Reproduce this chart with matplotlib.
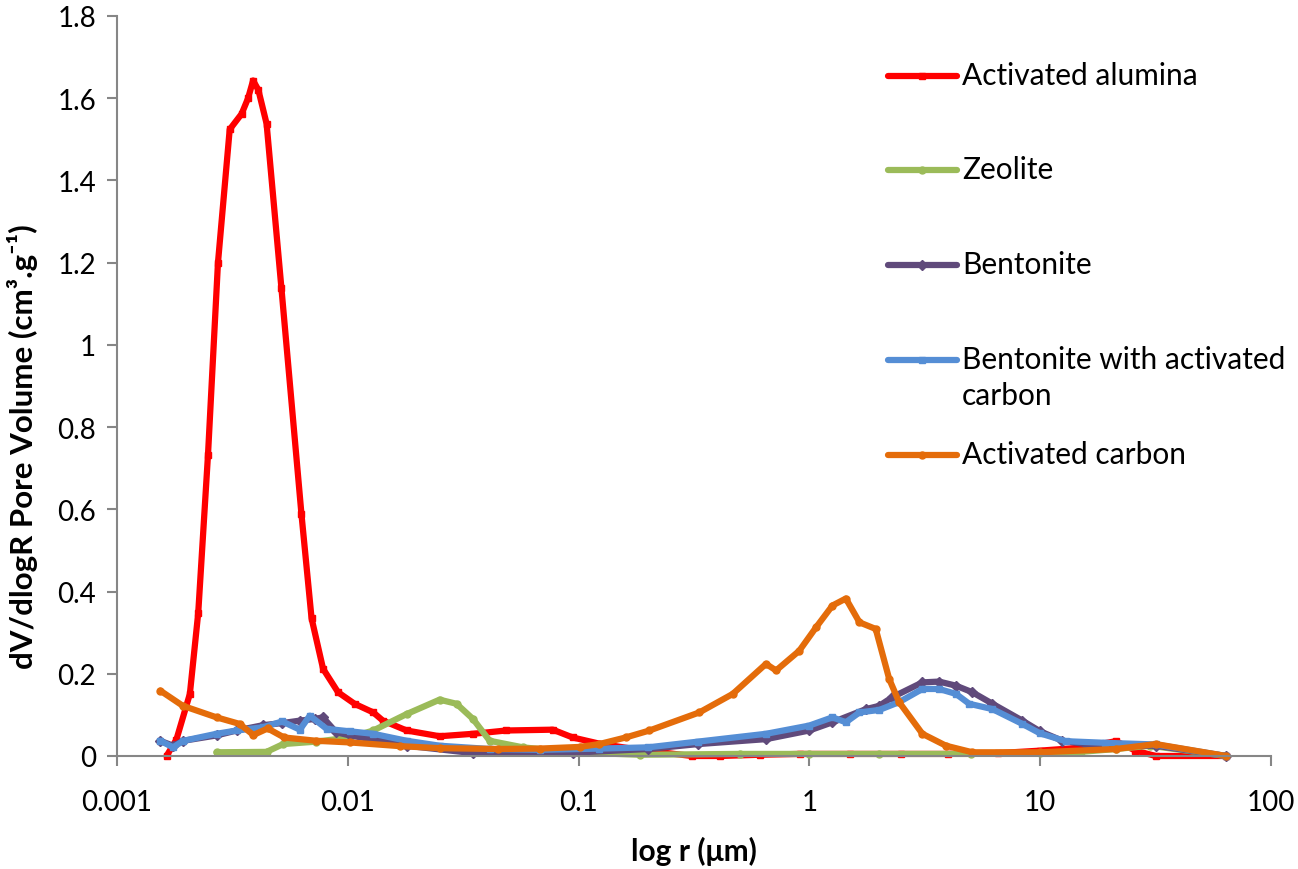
import matplotlib
matplotlib.use('Agg')
import matplotlib.pyplot as plt
from matplotlib.lines import Line2D
from matplotlib.ticker import FixedLocator, FuncFormatter, NullLocator

plt.rcParams['font.family'] = ['Lato', 'DejaVu Sans']

# pore radius (um) and dV/dlogR (cm3/g)
alumina_r = [0.00164, 0.00181, 0.00207, 0.00225, 0.00248, 0.00274, 0.00308, 0.00347,
             0.0037, 0.00389, 0.0041, 0.00445, 0.00516, 0.0063, 0.00697, 0.00782, 0.00908, 0.0107,
             0.0129, 0.0142, 0.018, 0.025, 0.035, 0.0486, 0.0774, 0.0944, 0.123,
             0.184, 0.31, 0.41, 0.61, 0.91, 1.5, 2.5, 4.0, 6.6, 10.0, 14.8, 21.3,
             25.9, 31.7, 64]
alumina_v = [0.0, 0.04, 0.151, 0.348, 0.732, 1.2, 1.524, 1.562,
             1.6, 1.643, 1.62, 1.538, 1.138, 0.589, 0.335, 0.212, 0.155, 0.127,
             0.106, 0.086, 0.062, 0.048, 0.054, 0.062, 0.064, 0.045, 0.03,
             0.015, 0.0, 0.0, 0.003, 0.005, 0.005, 0.005, 0.005, 0.007, 0.013, 0.02, 0.036,
             0.013, 0.0, 0.0]

zeolite_r = [0.0027, 0.00445, 0.00525, 0.00732, 0.0102, 0.0129, 0.018, 0.025, 0.0296,
             0.0349, 0.0412, 0.0574, 0.094, 0.184, 0.5, 1.0, 2.0, 5.0, 10.0, 15.0,
             21.3, 30.0, 64]
zeolite_v = [0.009, 0.01, 0.029, 0.035, 0.045, 0.062, 0.102, 0.137, 0.127,
             0.09, 0.037, 0.021, 0.009, 0.003, 0.005, 0.005, 0.005, 0.005, 0.007, 0.01,
             0.017, 0.025, 0.0]

bentonite_r = [0.00154, 0.00175, 0.00194, 0.0027, 0.0033, 0.0043, 0.0052, 0.0062, 0.0072,
               0.0078, 0.0089, 0.0102, 0.0129, 0.018, 0.0349, 0.0942, 0.2, 0.33, 0.65,
               1.0, 1.26, 1.76, 2.01, 2.29, 3.09, 3.65, 4.32, 5.09, 6.22, 8.38, 10.0,
               12.5, 15.8, 20.5, 31.7, 64]
bentonite_v = [0.037, 0.025, 0.037, 0.05, 0.062, 0.075, 0.08, 0.086, 0.09,
               0.094, 0.058, 0.05, 0.04, 0.025, 0.007, 0.008, 0.017, 0.029, 0.041,
               0.062, 0.082, 0.114, 0.122, 0.143, 0.179, 0.181, 0.171, 0.155, 0.127, 0.086, 0.06,
               0.037, 0.029, 0.025, 0.025, 0.0]

bent_ac_r = [0.00154, 0.00175, 0.00194, 0.0027, 0.0033, 0.0043, 0.0052, 0.0062, 0.00685,
             0.0081, 0.0102, 0.0129, 0.018, 0.025, 0.0412, 0.0678, 0.123, 0.2, 0.33,
             0.65, 1.0, 1.26, 1.44, 1.65, 2.01, 2.45, 3.09, 3.65, 4.32, 4.93, 6.22,
             8.38, 10.0, 12.9, 19.2, 31.7, 64]
bent_ac_v = [0.037, 0.021, 0.037, 0.054, 0.062, 0.07, 0.084, 0.064, 0.098,
             0.066, 0.06, 0.054, 0.037, 0.025, 0.017, 0.015, 0.018, 0.021, 0.035,
             0.054, 0.074, 0.094, 0.082, 0.106, 0.112, 0.131, 0.163, 0.163, 0.151, 0.127, 0.114,
             0.078, 0.055, 0.036, 0.032, 0.028, 0.0]

carbon_r = [0.00154, 0.00193, 0.0027, 0.0034, 0.0039, 0.0045, 0.0053, 0.0073, 0.0102,
            0.0168, 0.025, 0.045, 0.0678, 0.101, 0.123, 0.16, 0.203, 0.334, 0.466,
            0.649, 0.718, 0.905, 1.07, 1.26, 1.44, 1.65, 1.94, 2.22, 2.45, 3.09, 3.91,
            5.09, 10.0, 21.3, 31.7, 64]
carbon_v = [0.159, 0.122, 0.094, 0.078, 0.051, 0.067, 0.045, 0.037, 0.033,
            0.024, 0.019, 0.017, 0.018, 0.022, 0.029, 0.045, 0.062, 0.106, 0.151,
            0.224, 0.208, 0.256, 0.313, 0.366, 0.383, 0.325, 0.309, 0.187, 0.131, 0.054, 0.025,
            0.009, 0.009, 0.017, 0.029, 0.0]

labels = ['Activated alumina', 'Zeolite', 'Bentonite',
          'Bentonite with activated\ncarbon', 'Activated carbon']
colors = ['#FF0000', '#9BBB59', '#604A7B', '#558ED5', '#E46C0A']
markers = ['s', 'o', 'D', 's', 'o']

x_ticks = [0.001, 0.01, 0.1, 1, 10, 100]
y_ticks = [0, 0.2, 0.4, 0.6, 0.8, 1.0, 1.2, 1.4, 1.6, 1.8]

series = [(alumina_r, alumina_v), (zeolite_r, zeolite_v), (bentonite_r, bentonite_v),
          (bent_ac_r, bent_ac_v), (carbon_r, carbon_v)]

fig = plt.figure(figsize=(12.98, 8.70), dpi=100)
ax = fig.add_axes([0.0901, 0.1299, 0.889, 0.8506])

for (r, v), c, m in zip(series, colors, markers):
    ax.plot(r, v, color=c, lw=4.5, marker=m, markersize=5, solid_joinstyle='round',
            solid_capstyle='round', clip_on=False)

ax.set_xscale('log')
ax.set_xlim(0.001, 100)
ax.set_ylim(0, 1.8)
ax.xaxis.set_major_locator(FixedLocator(x_ticks))
ax.xaxis.set_minor_locator(NullLocator())
ax.xaxis.set_major_formatter(FuncFormatter(lambda v, p: f'{v:g}'))
ax.yaxis.set_major_locator(FixedLocator(y_ticks))
ax.yaxis.set_major_formatter(FuncFormatter(lambda v, p: f'{v:g}'))

for s in ['top', 'right']:
    ax.spines[s].set_visible(False)
for s in ['left', 'bottom']:
    ax.spines[s].set_color('#868686')
    ax.spines[s].set_linewidth(1.5)
ax.tick_params(axis='both', direction='out', length=7, width=1.5, color='#868686',
               labelsize=20, labelcolor='black')
ax.tick_params(axis='x', pad=17)
ax.tick_params(axis='y', pad=8)

ax.set_xlabel('log r (\u03bcm)', fontsize=21.5, fontweight='bold', labelpad=15)
ax.set_ylabel('dV/dlogR Pore Volume (cm\u00b3.g\u207b\u00b9)', fontsize=22.5,
              fontweight='bold')
ax.yaxis.set_label_coords(-0.068, 0.42)

# legend drawn by hand to keep Excel-like spacing
row_y = [77, 171, 266, 361, 456]
for lab, c, m, yp in zip(labels, colors, markers, row_y):
    fy = (870 - yp) / 870
    fig.add_artist(Line2D([888 / 1298, 957 / 1298], [fy, fy], transform=fig.transFigure,
                          color=c, lw=4.5, solid_capstyle='round'))
    fig.add_artist(Line2D([922 / 1298], [fy], transform=fig.transFigure,
                          color=c, marker=m, markersize=5))
    fig.text(962 / 1298, fy + 15 / 870, lab, fontsize=21.5, va='top', ha='left',
             linespacing=1.35)

fig.savefig('out.png', dpi=100)
